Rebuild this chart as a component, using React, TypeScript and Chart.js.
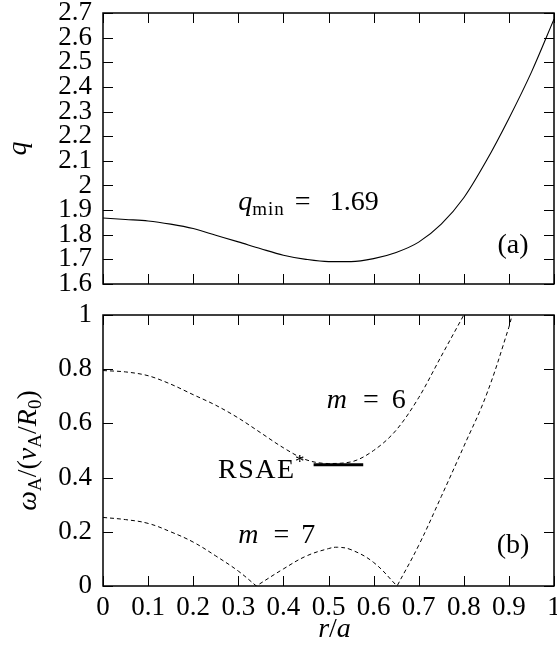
import React, { useEffect, useRef } from 'react';
import { Chart, registerables } from 'chart.js';

Chart.register(...registerables);

// ---------- data ----------
const R_Q = [0, 0.05, 0.1, 0.15, 0.2, 0.25, 0.3, 0.35, 0.4, 0.45, 0.5, 0.55, 0.6, 0.65, 0.7, 0.75, 0.8, 0.85, 0.9, 0.95, 1.0];
const Q_VALUES = [1.868, 1.862, 1.856, 1.843, 1.825, 1.798, 1.771, 1.743, 1.717, 1.7, 1.691, 1.691, 1.703, 1.728, 1.77, 1.843, 1.95, 2.1, 2.272, 2.46, 2.675];

const R_M6 = [0, 0.05, 0.1, 0.15, 0.2, 0.25, 0.3, 0.35, 0.4, 0.45, 0.5, 0.55, 0.6, 0.65, 0.7, 0.75, 0.8];
const W_M6 = [0.795, 0.79, 0.776, 0.745, 0.706, 0.667, 0.62, 0.565, 0.51, 0.466, 0.452, 0.458, 0.5, 0.575, 0.695, 0.848, 1.0];

const R_M7 = [0, 0.05, 0.1, 0.15, 0.2, 0.25, 0.3, 0.34, 0.34, 0.4, 0.45, 0.5, 0.52, 0.55, 0.6, 0.652, 0.652, 0.7, 0.75, 0.8, 0.85, 0.9, 0.907];
const W_M7 = [0.253, 0.245, 0.231, 0.2, 0.162, 0.111, 0.055, 0, 0, 0.063, 0.11, 0.138, 0.143, 0.134, 0.087, 0, 0, 0.15, 0.33, 0.515, 0.705, 0.955, 1.0];

const R_RSAE = [0.467, 0.577];
const W_RSAE = [0.447, 0.447];

const R_TICKS = [0, 0.1, 0.2, 0.3, 0.4, 0.5, 0.6, 0.7, 0.8, 0.9, 1];
const R_TICK_LABELS = ['0', '0.1', '0.2', '0.3', '0.4', '0.5', '0.6', '0.7', '0.8', '0.9', '1'];
const Q_TICKS = [1.6, 1.7, 1.8, 1.9, 2.0, 2.1, 2.2, 2.3, 2.4, 2.5, 2.6, 2.7];
const Q_TICK_LABELS = ['1.6', '1.7', '1.8', '1.9', '2', '2.1', '2.2', '2.3', '2.4', '2.5', '2.6', '2.7'];
const W_TICKS = [0, 0.2, 0.4, 0.6, 0.8, 1];
const W_TICK_LABELS = ['0', '0.2', '0.4', '0.6', '0.8', '1'];

// ---------- styling ----------
const FAMILY = "'Liberation Serif', 'DejaVu Serif', serif";
const FS = 27;
const AS = 28;
const SUB = 19;

type Run = { t: string; italic?: boolean; size?: number; dy?: number; gap?: number; ls?: number };

function fontOf(r: Run) {
  return `${r.italic ? 'italic ' : ''}${r.size || FS}px ${FAMILY}`;
}

function runWidth(ctx: CanvasRenderingContext2D, r: Run) {
  ctx.font = fontOf(r);
  if (!r.ls) return ctx.measureText(r.t).width;
  let w = 0;
  for (const ch of r.t) w += ctx.measureText(ch).width;
  return w + r.ls * (r.t.length - 1);
}

function drawRuns(ctx: CanvasRenderingContext2D, runs: Run[], x: number, y: number, align: 'left' | 'center' | 'right') {
  let total = 0;
  for (const r of runs) total += (r.gap || 0) + runWidth(ctx, r);
  let cx = align === 'left' ? x : align === 'center' ? x - total / 2 : x - total;
  ctx.textAlign = 'left';
  ctx.textBaseline = 'alphabetic';
  ctx.fillStyle = '#000';
  for (const r of runs) {
    cx += r.gap || 0;
    ctx.font = fontOf(r);
    if (r.ls) {
      for (const ch of r.t) {
        ctx.fillText(ch, cx, y + (r.dy || 0));
        cx += ctx.measureText(ch).width + r.ls;
      }
      cx -= r.ls;
    } else {
      ctx.fillText(r.t, cx, y + (r.dy || 0));
      cx += ctx.measureText(r.t).width;
    }
  }
}

type Label = { runs: Run[]; x: number; y: number; align: 'left' | 'center' | 'right' };

function framePlugin(xTicks: number[], yTicks: number[], labels: Label[], yTitle: Run[], yTitleX: number, xTitle: Run[] | null, xTitleY: number) {
  return {
    id: 'frameAndText',
    afterDatasetsDraw(chart: any) {
      const { ctx, chartArea: a, scales } = chart;
      const xs = scales.x;
      const ys = scales.y;
      const TL = 10;
      ctx.save();
      ctx.strokeStyle = '#000';
      ctx.lineWidth = 1;
      ctx.beginPath();
      for (const v of xTicks) {
        const px = Math.round(xs.getPixelForValue(v)) + 0.5;
        ctx.moveTo(px, a.bottom);
        ctx.lineTo(px, a.bottom - TL);
        ctx.moveTo(px, a.top);
        ctx.lineTo(px, a.top + TL);
      }
      for (const v of yTicks) {
        const py = Math.round(ys.getPixelForValue(v)) + 0.5;
        ctx.moveTo(a.left, py);
        ctx.lineTo(a.left + TL, py);
        ctx.moveTo(a.right, py);
        ctx.lineTo(a.right - TL, py);
      }
      ctx.stroke();
      ctx.lineWidth = 1.5;
      ctx.strokeRect(a.left, a.top, a.right - a.left, a.bottom - a.top);

      for (const l of labels) {
        drawRuns(ctx, l.runs, xs.getPixelForValue(l.x), ys.getPixelForValue(l.y), l.align);
      }
      ctx.save();
      ctx.translate(yTitleX, (a.top + a.bottom) / 2);
      ctx.rotate(-Math.PI / 2);
      drawRuns(ctx, yTitle, 0, 0, 'center');
      ctx.restore();
      if (xTitle) {
        drawRuns(ctx, xTitle, (a.left + a.right) / 2 + 6, xTitleY, 'center');
      }
      ctx.restore();
    },
  };
}

function makeScale(ticks: number[], labels: string[], showLabels: boolean, min: number, max: number, isX: boolean, size: number) {
  return {
    type: 'linear',
    min,
    max,
    grid: { display: false, drawTicks: false },
    border: { display: false },
    ticks: {
      display: showLabels,
      color: '#000',
      font: { family: FAMILY, size: FS },
      padding: isX ? 6 : 11,
      autoSkip: false,
      maxRotation: 0,
      minRotation: 0,
      callback: (_v: any, i: number) => labels[i],
    },
    afterBuildTicks: (s: any) => {
      s.ticks = ticks.map((v) => ({ value: v }));
    },
    afterFit: (s: any) => {
      if (isX) s.height = size;
      else s.width = size;
      s.paddingLeft = 0;
      s.paddingRight = 0;
      s.paddingTop = 0;
      s.paddingBottom = 0;
    },
  };
}

function pts(xs: number[], ys: number[]) {
  return xs.map((x, i) => ({ x, y: ys[i] }));
}

export default function App() {
  const topRef = useRef<HTMLCanvasElement>(null);
  const botRef = useRef<HTMLCanvasElement>(null);

  useEffect(() => {
    document.body.style.margin = '0';
    const topLabels: Label[] = [
      {
        runs: [
          { t: 'q', italic: true, size: AS },
          { t: 'min', size: SUB, dy: 5, ls: 1 },
          { t: '=', gap: 11, size: AS },
          { t: '1.69', gap: 19, size: AS },
        ],
        x: 0.3,
        y: 1.9,
        align: 'left',
      },
      { runs: [{ t: '(a)', size: AS }], x: 0.909, y: 1.727, align: 'center' },
    ];
    const top = new Chart(topRef.current as HTMLCanvasElement, {
      type: 'line',
      data: {
        datasets: [
          {
            data: pts(R_Q, Q_VALUES),
            borderColor: '#000',
            borderWidth: 1.1,
            pointRadius: 0,
            cubicInterpolationMode: 'monotone',
            fill: false,
          },
        ],
      },
      options: {
        animation: false,
        responsive: false,
        devicePixelRatio: 1,
        layout: { padding: { left: 0, right: 3, top: 13, bottom: 0 } },
        plugins: { legend: { display: false }, tooltip: { enabled: false } },
        scales: {
          x: makeScale(R_TICKS, R_TICK_LABELS, false, 0, 1, true, 16) as any,
          y: makeScale(Q_TICKS, Q_TICK_LABELS, true, 1.6, 2.7, false, 103) as any,
        },
      },
      plugins: [framePlugin(R_TICKS, Q_TICKS, topLabels, [{ t: 'q', italic: true, size: AS }], 26, null, 0)],
    });

    const botLabels: Label[] = [
      {
        runs: [{ t: 'm', italic: true, size: AS }, { t: '=', gap: 16, size: AS }, { t: '6', gap: 13, size: AS }],
        x: 0.496,
        y: 0.656,
        align: 'left',
      },
      {
        runs: [{ t: 'm', italic: true, size: AS }, { t: '=', gap: 15, size: AS }, { t: '7', gap: 12, size: AS }],
        x: 0.3,
        y: 0.16,
        align: 'left',
      },
      {
        runs: [{ t: 'RSAE', size: AS, ls: 1.5 }, { t: '*', size: SUB, dy: -10, gap: 1 }],
        x: 0.447,
        y: 0.397,
        align: 'right',
      },
      { runs: [{ t: '(b)', size: AS }], x: 0.909, y: 0.122, align: 'center' },
    ];
    const yTitleB: Run[] = [
      { t: 'ω', italic: true, size: AS },
      { t: 'A', size: SUB, dy: 5 },
      { t: '/(', size: AS },
      { t: 'v', italic: true, size: AS },
      { t: 'A', size: SUB, dy: 5 },
      { t: '/', size: AS },
      { t: 'R', italic: true, size: AS },
      { t: '0', size: SUB, dy: 5 },
      { t: ')', size: AS },
    ];
    const xTitle: Run[] = [
      { t: 'r', italic: true, size: AS },
      { t: '/', size: AS },
      { t: 'a', italic: true, size: AS },
    ];

    const bot = new Chart(botRef.current as HTMLCanvasElement, {
      type: 'line',
      data: {
        datasets: [
          {
            data: pts(R_M6, W_M6),
            borderColor: '#000',
            borderWidth: 1,
            borderDash: [4, 3],
            pointRadius: 0,
            cubicInterpolationMode: 'monotone',
            fill: false,
          },
          {
            data: pts(R_M7, W_M7),
            borderColor: '#000',
            borderWidth: 1,
            borderDash: [4, 3],
            pointRadius: 0,
            tension: 0.4,
            fill: false,
          },
          {
            data: pts(R_RSAE, W_RSAE),
            borderColor: '#000',
            borderWidth: 3,
            pointRadius: 0,
            tension: 0,
            fill: false,
          },
        ],
      },
      options: {
        animation: false,
        responsive: false,
        devicePixelRatio: 1,
        layout: { padding: { left: 0, right: 3, top: 15, bottom: 0 } },
        plugins: { legend: { display: false }, tooltip: { enabled: false } },
        scales: {
          x: makeScale(R_TICKS, R_TICK_LABELS, true, 0, 1, true, 73) as any,
          y: makeScale(W_TICKS, W_TICK_LABELS, true, 0, 1, false, 103) as any,
        },
      },
      plugins: [framePlugin(R_TICKS, W_TICKS, botLabels, yTitleB, 36, xTitle, 337)],
    });

    return () => {
      top.destroy();
      bot.destroy();
    };
  }, []);

  return (
    <div style={{ position: 'relative', width: 557, height: 659, background: '#fff' }}>
      <canvas ref={topRef} width={557} height={300} style={{ position: 'absolute', left: 0, top: 0 }} />
      <canvas ref={botRef} width={557} height={359} style={{ position: 'absolute', left: 0, top: 300 }} />
    </div>
  );
}
